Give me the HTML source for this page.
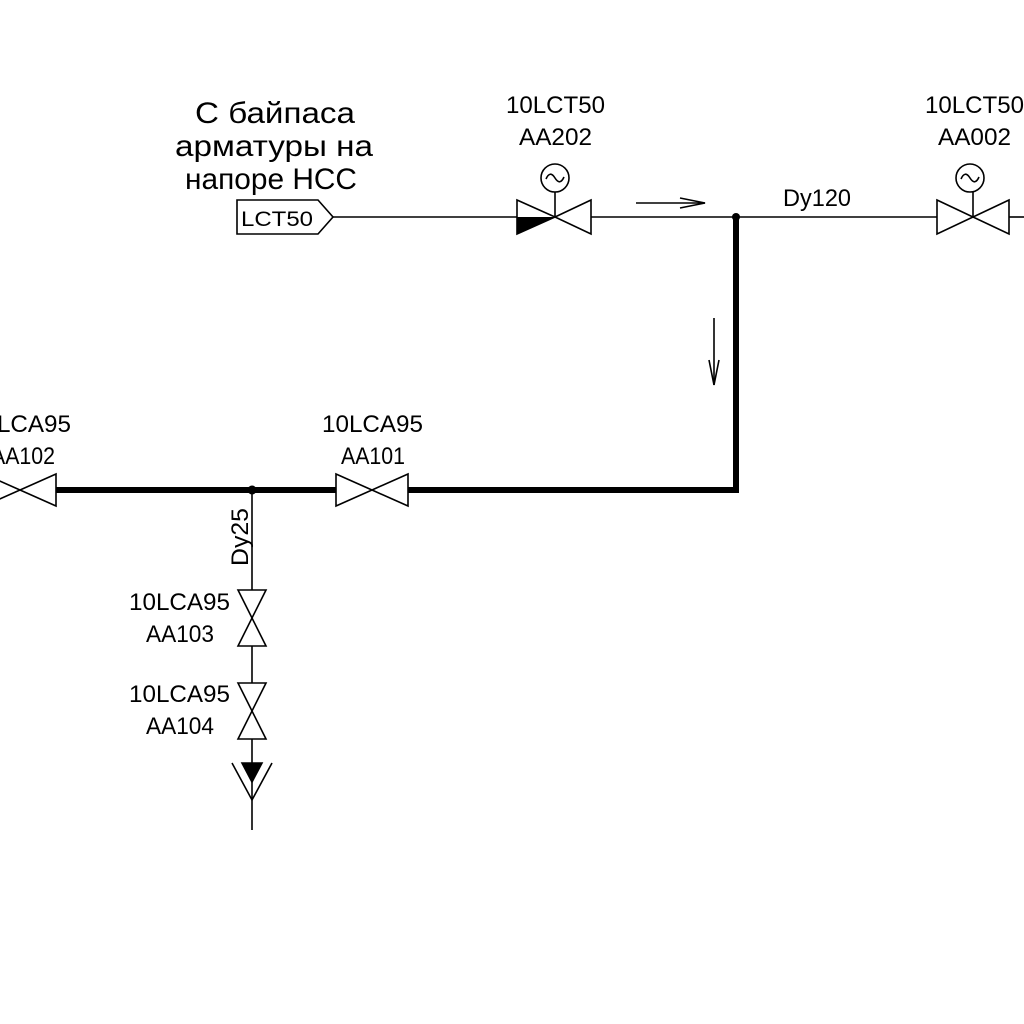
<!DOCTYPE html>
<html><head><meta charset="utf-8"><style>
html,body{margin:0;padding:0;background:#fff}
svg{display:block}
text{font-family:"Liberation Sans Narrow","Liberation Sans",sans-serif;fill:#000}
</style></head><body>
<svg width="1024" height="1024" viewBox="0 0 1024 1024">
<g stroke="#000" stroke-width="1.6" fill="none">
<path d="M237 200 H318 L333 217 L318 234 H237 Z" fill="#fff"/>
<line x1="333" y1="217" x2="517" y2="217"/>
<g>
<path d="M517 200 L555 217 L517 234 Z" fill="#fff"/>
<path d="M517 234 L555 217 L517 217 Z" fill="#000" stroke="none"/>
<path d="M591 200 L555 217 L591 234 Z" fill="#fff"/>
<line x1="555" y1="192" x2="555" y2="217"/>
<circle cx="555" cy="178" r="14" fill="#fff"/>
<path d="M546 179 Q550 170 555 178 Q560 186 564 177"/>
</g>
<line x1="591" y1="217" x2="937" y2="217"/>
<g>
<line x1="636" y1="203" x2="705" y2="203"/>
<path d="M680 198 L705 203 L680 208"/>
</g>
<g>
<path d="M937 200 L973 217 L937 234 Z" fill="#fff"/>
<path d="M1009 200 L973 217 L1009 234 Z" fill="#fff"/>
<line x1="973" y1="192" x2="973" y2="217"/>
<circle cx="970" cy="178" r="14" fill="#fff"/>
<path d="M961 179 Q965 170 970 178 Q975 186 979 177"/>
</g>
<line x1="1009" y1="217" x2="1024" y2="217"/>
<path d="M736 217 V490 H408" stroke-width="6"/>
<line x1="336" y1="490" x2="56" y2="490" stroke-width="6"/>
<g>
<line x1="714" y1="318" x2="714" y2="385"/>
<path d="M709 360 L714 385 L719 360"/>
</g>
<g>
<path d="M336 474 L372 490 L336 506 Z" fill="#fff"/>
<path d="M408 474 L372 490 L408 506 Z" fill="#fff"/>
</g>
<g>
<path d="M-16 474 L20 490 L-16 506 Z" fill="#fff"/>
<path d="M56 474 L20 490 L56 506 Z" fill="#fff"/>
</g>
<line x1="252" y1="490" x2="252" y2="830"/>
<g>
<path d="M238 590 L252 618 L266 590 Z" fill="#fff"/>
<path d="M238 646 L252 618 L266 646 Z" fill="#fff"/>
</g>
<g>
<path d="M238 683 L252 711 L266 683 Z" fill="#fff"/>
<path d="M238 739 L252 711 L266 739 Z" fill="#fff"/>
</g>
<g>
<path d="M242 763 H262 L252 782 Z" fill="#000"/>
<path d="M232 763 L252 800 L272 763"/>
</g>
</g>
<circle cx="736" cy="217" r="4"/>
<circle cx="252" cy="490" r="4.5"/>
<g font-size="30" lengthAdjust="spacingAndGlyphs">
<text x="195" y="123" textLength="160" lengthAdjust="spacingAndGlyphs">С байпаса</text>
<text x="175" y="156" textLength="198" lengthAdjust="spacingAndGlyphs">арматуры на</text>
<text x="185" y="189" textLength="172" lengthAdjust="spacingAndGlyphs">напоре НСС</text>
</g>
<text x="241" y="226" font-size="21" textLength="72" lengthAdjust="spacingAndGlyphs">LCT50</text>
<g font-size="24">
<text x="506" y="113" textLength="99" lengthAdjust="spacingAndGlyphs">10LCT50</text>
<text x="519" y="145" textLength="73" lengthAdjust="spacingAndGlyphs">AA202</text>
<text x="925" y="113" textLength="99" lengthAdjust="spacingAndGlyphs">10LCT50</text>
<text x="938" y="145" textLength="73" lengthAdjust="spacingAndGlyphs">AA002</text>
<text x="783" y="206" textLength="68" lengthAdjust="spacingAndGlyphs">Dy120</text>
<text x="322" y="432" textLength="101" lengthAdjust="spacingAndGlyphs">10LCA95</text>
<text x="341" y="464" textLength="64" lengthAdjust="spacingAndGlyphs">AA101</text>
<text x="-30" y="432" textLength="101" lengthAdjust="spacingAndGlyphs">10LCA95</text>
<text x="-9" y="464" textLength="64" lengthAdjust="spacingAndGlyphs">AA102</text>
<text x="129" y="610" textLength="101" lengthAdjust="spacingAndGlyphs">10LCA95</text>
<text x="146" y="642" textLength="68" lengthAdjust="spacingAndGlyphs">AA103</text>
<text x="129" y="702" textLength="101" lengthAdjust="spacingAndGlyphs">10LCA95</text>
<text x="146" y="734" textLength="68" lengthAdjust="spacingAndGlyphs">AA104</text>
<text transform="translate(248 566) rotate(-90)" textLength="58" lengthAdjust="spacingAndGlyphs">Dy25</text>
</g>
</svg>
</body></html>
